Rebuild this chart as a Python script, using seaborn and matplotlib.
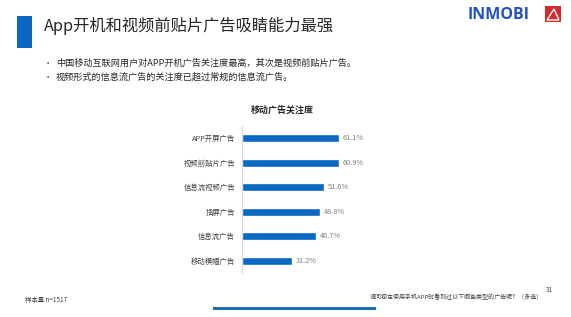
import matplotlib
matplotlib.use("Agg")
import matplotlib.pyplot as plt
import seaborn as sns
import pandas as pd
from matplotlib.patches import Rectangle, Polygon

categories = ["APP开屏广告", "视频前贴片广告", "信息流视频广告", "插屏广告", "信息流广告", "移动横幅广告"]
values = [61.1, 60.9, 51.6, 48.8, 46.7, 31.2]
value_labels = ["61.1%", "60.9%", "51.6%", "48.8%", "46.7%", "31.2%"]

sns.set_theme(style="white")
plt.rcParams['font.family'] = ['Noto Sans CJK SC', 'DejaVu Sans']

W, H = 571, 317
fig = plt.figure(figsize=(W / 100, H / 100), dpi=100)
fig.patch.set_facecolor("white")

def fx(px):
    return px / W

def fy(py):
    return 1 - py / H

BLUE = "#0B67C2"

# Chart axes
ax = fig.add_axes([fx(242), fy(272.8), 159 / W, 147 / H])
df = pd.DataFrame({"cat": categories, "val": values})
sns.barplot(data=df, x="val", y="cat", orient="h", color=BLUE, width=0.33,
            saturation=1, ax=ax)
ax.set_xlim(0, 100)
ax.set_ylim(5.5, -0.5)
ax.set_xlabel("")
ax.set_ylabel("")
ax.set_xticks([])
for s in ["top", "right", "bottom"]:
    ax.spines[s].set_visible(False)
ax.spines["left"].set_color("#D9D9D9")
ax.spines["left"].set_linewidth(0.8)
ax.tick_params(axis="y", length=0, pad=5, labelsize=5.3, labelcolor="#404040")
for i, (v, lab) in enumerate(zip(values, value_labels)):
    ax.text(v + 2.5, i, lab, va="center", ha="left", fontsize=5.3, color="#7F7F7F")

# Chart title
fig.text(fx(282), fy(110), "移动广告关注度", ha="center", va="center",
         fontsize=6.5, fontweight="bold", color="#262626")

# Header
fig.patches.append(Rectangle((fx(17), fy(48)), fx(15), 32 / H, transform=fig.transFigure,
                             facecolor=BLUE, edgecolor="none"))
fig.text(fx(44), fy(26), "App开机和视频前贴片广告吸睛能力最强", ha="left", va="center",
         fontsize=11.7, color="#262626")

# Bullets
fig.text(fx(44), fy(63.5), "•", ha="left", va="center", fontsize=6, color="#404040")
fig.text(fx(56), fy(63.5), "中国移动互联网用户对APP开机广告关注度最高，其次是视频前贴片广告。",
         ha="left", va="center", fontsize=6.6, color="#262626")
fig.text(fx(44), fy(77.5), "•", ha="left", va="center", fontsize=6, color="#404040")
fig.text(fx(56), fy(77.5), "视频形式的信息流广告的关注度已超过常规的信息流广告。",
         ha="left", va="center", fontsize=6.6, color="#262626")

# Logo
fig.text(fx(499), fy(15), "INMOBI", ha="center", va="center", fontsize=11.5,
         color="#2350C8", family=["Open Sans"], fontweight="bold")
fig.patches.append(Rectangle((fx(545), fy(22)), fx(16), 16 / H, transform=fig.transFigure,
                             facecolor="#D42A2A", edgecolor="none"))
fig.patches.append(Polygon([(fx(547), fy(20)), (fx(559), fy(20)), (fx(554), fy(9))],
                           closed=True, transform=fig.transFigure, facecolor="none",
                           edgecolor="white", linewidth=1.0))

# Footer
fig.text(fx(25), fy(300), "样本量 n=1517", ha="left", va="center", fontsize=4.6, color="#404040")
fig.text(fx(543), fy(297), "请问您在使用手机APP时看到过以下哪些类型的广告呢？（多选）",
         ha="right", va="center", fontsize=4.3, style="italic", color="#404040")
fig.text(fx(549), fy(290), "31", ha="center", va="center", fontsize=4.5, color="#404040")
fig.patches.append(Rectangle((fx(213), fy(310)), fx(163), 3 / H, transform=fig.transFigure,
                             facecolor="#1F6DB5", edgecolor="none"))

fig.savefig("out.png", dpi=100, facecolor="white")
